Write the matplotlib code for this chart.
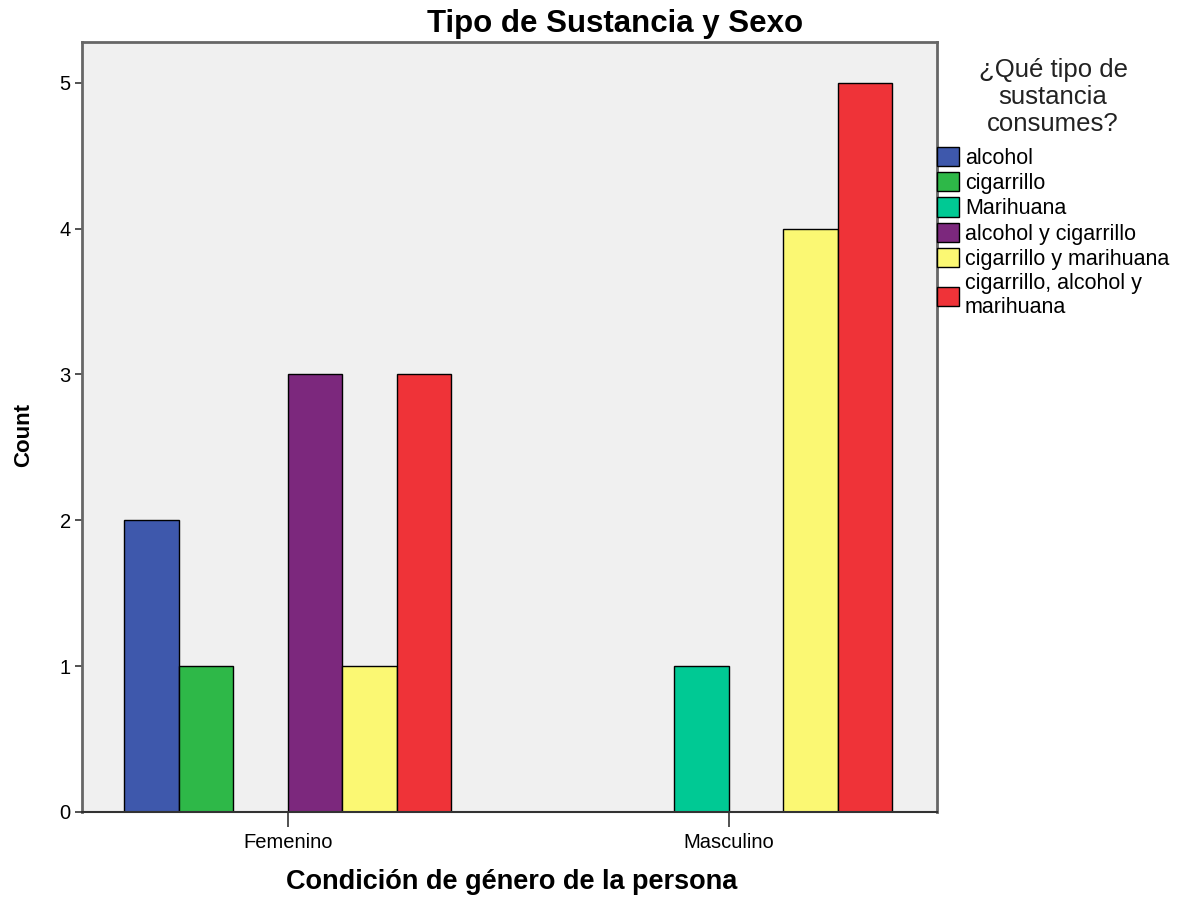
import numpy as np
import matplotlib
matplotlib.use("Agg")
import matplotlib.pyplot as plt

plt.rcParams["font.family"] = ["Liberation Sans", "DejaVu Sans"]

# data
groups = ["Femenino", "Masculino"]
substances = ["alcohol", "cigarrillo", "Marihuana", "alcohol y cigarrillo",
              "cigarrillo y marihuana", "cigarrillo, alcohol y\nmarihuana"]
counts = {
    "alcohol": [2, 0],
    "cigarrillo": [1, 0],
    "Marihuana": [0, 1],
    "alcohol y cigarrillo": [3, 0],
    "cigarrillo y marihuana": [1, 4],
    "cigarrillo, alcohol y\nmarihuana": [3, 5],
}
colors = ["#3E58AC", "#2EB848", "#00C994", "#7C287D", "#FBF873", "#EF3338"]

fig = plt.figure(figsize=(11.81, 8.97), dpi=100)
ax = fig.add_axes([0.0694, 0.0948, 0.724, 0.8584])
ax.set_facecolor("#F0F0F0")

x = np.arange(len(groups))
width = 0.1236
n = len(substances)
for i, (name, col) in enumerate(zip(substances, colors)):
    vals = np.array(counts[name], dtype=float)
    offs = (i - (n - 1) / 2) * width
    ax.bar(x + offs, vals, width, color=col, edgecolor="black", linewidth=1.0,
           label=name, zorder=2)

ax.set_xlim(-0.467, 1.472)
ax.set_ylim(0, 5.28)
ax.set_yticks(range(6))
ax.set_xticks(x)
ax.set_xticklabels(groups, fontsize=14.5)
ax.tick_params(axis="y", labelsize=14.5, length=5, width=1.2, color="#333333", pad=3)
ax.tick_params(axis="x", length=11, width=1.2, color="#333333", pad=4)
for sp in ax.spines.values():
    sp.set_color("#666666")
    sp.set_linewidth(2)
ax.spines["bottom"].set_color("#333333")
ax.spines["bottom"].set_linewidth(1.5)

fig.text(0.521, 1 - 24 / 897, "Tipo de Sustancia y Sexo", fontsize=22.5,
         fontweight="bold", ha="center", va="center")
fig.text(512 / 1181, 1 - 882 / 897, "Condición de género de la persona",
         fontsize=19.5, fontweight="bold", ha="center", va="center")
fig.text(24 / 1181, 1 - 435 / 897, "Count", fontsize=16, fontweight="bold",
         rotation=90, ha="center", va="center")

leg = ax.legend(loc="upper left", bbox_to_anchor=(1.0, 0.979), borderaxespad=0,
                frameon=False, fontsize=15.5, handlelength=1.0, handleheight=1.0,
                handletextpad=0.3, labelspacing=0.15, borderpad=0,
                title="¿Qué tipo de\nsustancia\nconsumes?", title_fontsize=18.5)
leg._legend_box.align = "center"
leg._legend_box.sep = 8
leg.get_title().set_multialignment("center")
leg.get_title().set_linespacing(1.15)
leg.get_title().set_color("#222222")

fig.savefig("out.png", dpi=100)
